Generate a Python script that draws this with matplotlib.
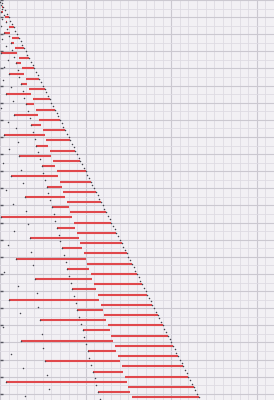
import matplotlib
matplotlib.use('Agg')
import matplotlib.pyplot as plt
from matplotlib.ticker import MultipleLocator


# rows that carry a red interval: row value, left end, right end
seg_y = [4, 7, 10, 13, 16, 19, 22, 25, 28, 31, 34, 37, 40, 43, 46, 49, 52, 55, 58, 61,
         64, 67, 70, 73, 76, 79, 82, 85, 88, 91, 94, 97, 100, 103, 106, 109, 112, 115, 118, 121,
         124, 127, 130, 133, 136, 139, 142, 145, 148, 151, 154, 157, 160, 163, 166, 169, 172, 175, 178, 181,
         184, 187, 190, 193, 196, 199, 202, 205, 208, 211, 214, 217, 220, 223, 226, 229, 232]
seg_x0 = [1, 0.44, 3, 3.25, 5, 2.38, 7, 6.25, 9, 0.48, 11, 9.25, 13, 5.38, 15, 12.25, 17, 3.44, 19, 15.25,
          21, 8.38, 23, 18.25, 25, 2.47, 27, 21.25, 29, 11.38, 31, 24.25, 33, 6.44, 35, 27.25, 37, 14.38, 39, 30.25,
          41, 0.5, 43, 33.25, 45, 17.38, 47, 36.25, 49, 9.44, 51, 39.25, 53, 20.38, 55, 42.25, 57, 5.47, 59, 45.25,
          61, 23.38, 63, 48.25, 65, 12.44, 67, 51.25, 69, 26.38, 71, 54.25, 73, 3.48, 75, 57.25, 77]
seg_x1 = [2, 2, 5, 4, 8, 6, 11, 8, 14, 10, 17, 12, 20, 14, 23, 16, 26, 18, 29, 20,
          32, 22, 35, 24, 38, 26, 41, 28, 44, 30, 47, 32, 50, 34, 53, 36, 56, 38, 59, 40,
          62, 42, 65, 44, 68, 46, 71, 48, 74, 50, 77, 52, 80, 54, 83, 56, 86, 58, 89, 60,
          92, 62, 95, 64, 98, 66, 101, 68, 104, 70, 107, 72, 110, 74, 113, 76, 116]

# small dots on the diagonal (even rows)
diag_y = [2, 4, 6, 8, 10, 12, 14, 16, 18, 20, 22, 24, 26, 28, 30, 32, 34, 36, 38, 40,
          42, 44, 46, 48, 50, 52, 54, 56, 58, 60, 62, 64, 66, 68, 70, 72, 74, 76, 78, 80,
          82, 84, 86, 88, 90, 92, 94, 96, 98, 100, 102, 104, 106, 108, 110, 112, 114, 116, 118, 120,
          122, 124, 126, 128, 130, 132, 134, 136, 138, 140, 142, 144, 146, 148, 150, 152, 154, 156, 158, 160,
          162, 164, 166, 168, 170, 172, 174, 176, 178, 180, 182, 184, 186, 188, 190, 192, 194, 196, 198, 200,
          202, 204, 206, 208, 210, 212, 214, 216, 218, 220, 222, 224, 226, 228, 230, 232]
diag_x = [1, 2, 3, 4, 5, 6, 7, 8, 9, 10, 11, 12, 13, 14, 15, 16, 17, 18, 19, 20,
          21, 22, 23, 24, 25, 26, 27, 28, 29, 30, 31, 32, 33, 34, 35, 36, 37, 38, 39, 40,
          41, 42, 43, 44, 45, 46, 47, 48, 49, 50, 51, 52, 53, 54, 55, 56, 57, 58, 59, 60,
          61, 62, 63, 64, 65, 66, 67, 68, 69, 70, 71, 72, 73, 74, 75, 76, 77, 78, 79, 80,
          81, 82, 83, 84, 85, 86, 87, 88, 89, 90, 91, 92, 93, 94, 95, 96, 97, 98, 99, 100,
          101, 102, 103, 104, 105, 106, 107, 108, 109, 110, 111, 112, 113, 114, 115, 116]

# small dots left of the diagonal (odd rows)
odd_y = [1, 3, 5, 7, 9, 11, 13, 15, 17, 19, 21, 23, 25, 27, 29, 31, 33, 35, 37, 39,
         41, 43, 45, 47, 49, 51, 53, 55, 57, 59, 61, 63, 65, 67, 69, 71, 73, 75, 77, 79,
         81, 83, 85, 87, 89, 91, 93, 95, 97, 99, 101, 103, 105, 107, 109, 111, 113, 115, 117, 119,
         121, 123, 125, 127, 129, 131, 133, 135, 137, 139, 141, 143, 145, 147, 149, 151, 153, 155, 157, 159,
         161, 163, 165, 167, 169, 171, 173, 175, 177, 179, 181, 183, 185, 187, 189, 191, 193, 195, 197, 199,
         201, 203, 205, 207, 209, 211, 213, 215, 217, 219, 221, 223, 225, 227, 229, 231, 233]
odd_x = [0.25, 0.38, 1.25, 0.44, 2.25, 1.38, 3.25, 0.47, 4.25, 2.38, 5.25, 1.44, 6.25, 3.38, 7.25, 0.48, 8.25, 4.38, 9.25, 2.44,
         10.25, 5.38, 11.25, 1.47, 12.25, 6.38, 13.25, 3.44, 14.25, 7.38, 15.25, 0.49, 16.25, 8.38, 17.25, 4.44, 18.25, 9.38, 19.25, 2.47,
         20.25, 10.38, 21.25, 5.44, 22.25, 11.38, 23.25, 1.48, 24.25, 12.38, 25.25, 6.44, 26.25, 13.38, 27.25, 3.47, 28.25, 14.38, 29.25, 7.44,
         30.25, 15.38, 31.25, 0.5, 32.25, 16.38, 33.25, 8.44, 34.25, 17.38, 35.25, 4.47, 36.25, 18.38, 37.25, 9.44, 38.25, 19.38, 39.25, 2.48,
         40.25, 20.38, 41.25, 10.44, 42.25, 21.38, 43.25, 5.47, 44.25, 22.38, 45.25, 11.44, 46.25, 23.38, 47.25, 1.49, 48.25, 24.38, 49.25, 12.44,
         50.25, 25.38, 51.25, 6.47, 52.25, 26.38, 53.25, 13.44, 54.25, 27.38, 55.25, 3.48, 56.25, 28.38, 57.25, 14.44, 58.25]


fig = plt.figure(figsize=(2.74, 4.0), dpi=100)
ax = fig.add_axes([0, 0, 1, 1])
ax.set_facecolor('#f2f0f4')

# grid: fine lines every 5, stronger every 10 (rows) / 50 (columns)
ax.xaxis.set_minor_locator(MultipleLocator(5))
ax.xaxis.set_major_locator(MultipleLocator(50))
ax.yaxis.set_minor_locator(MultipleLocator(5))
ax.yaxis.set_major_locator(MultipleLocator(10))
ax.grid(which='minor', color='#dedbe3', linewidth=0.6)
ax.grid(which='major', color='#cbc8d0', linewidth=0.8)
ax.set_axisbelow(True)

# red intervals and the dots
ax.hlines(seg_y, seg_x0, seg_x1, color='#e0484c', linewidth=1.5, zorder=2)
ax.scatter(diag_x, diag_y, s=1.2, color='#44444e', linewidths=0, zorder=3)
ax.scatter(odd_x, odd_y, s=1.2, color='#44444e', linewidths=0, zorder=3)

ax.set_xlim(0, 160)
ax.set_ylim(233.6, 0)
# short inward ticks on the left edge at the stronger rows
ax.tick_params(axis='y', which='major', direction='in', length=2, width=1, color='#55555f', pad=0,
               labelleft=False)
ax.tick_params(axis='y', which='minor', length=0)
ax.tick_params(axis='x', which='both', length=0, labelbottom=False)
for s in ax.spines.values():
    s.set_visible(False)

plt.savefig('out.png', dpi=100)
